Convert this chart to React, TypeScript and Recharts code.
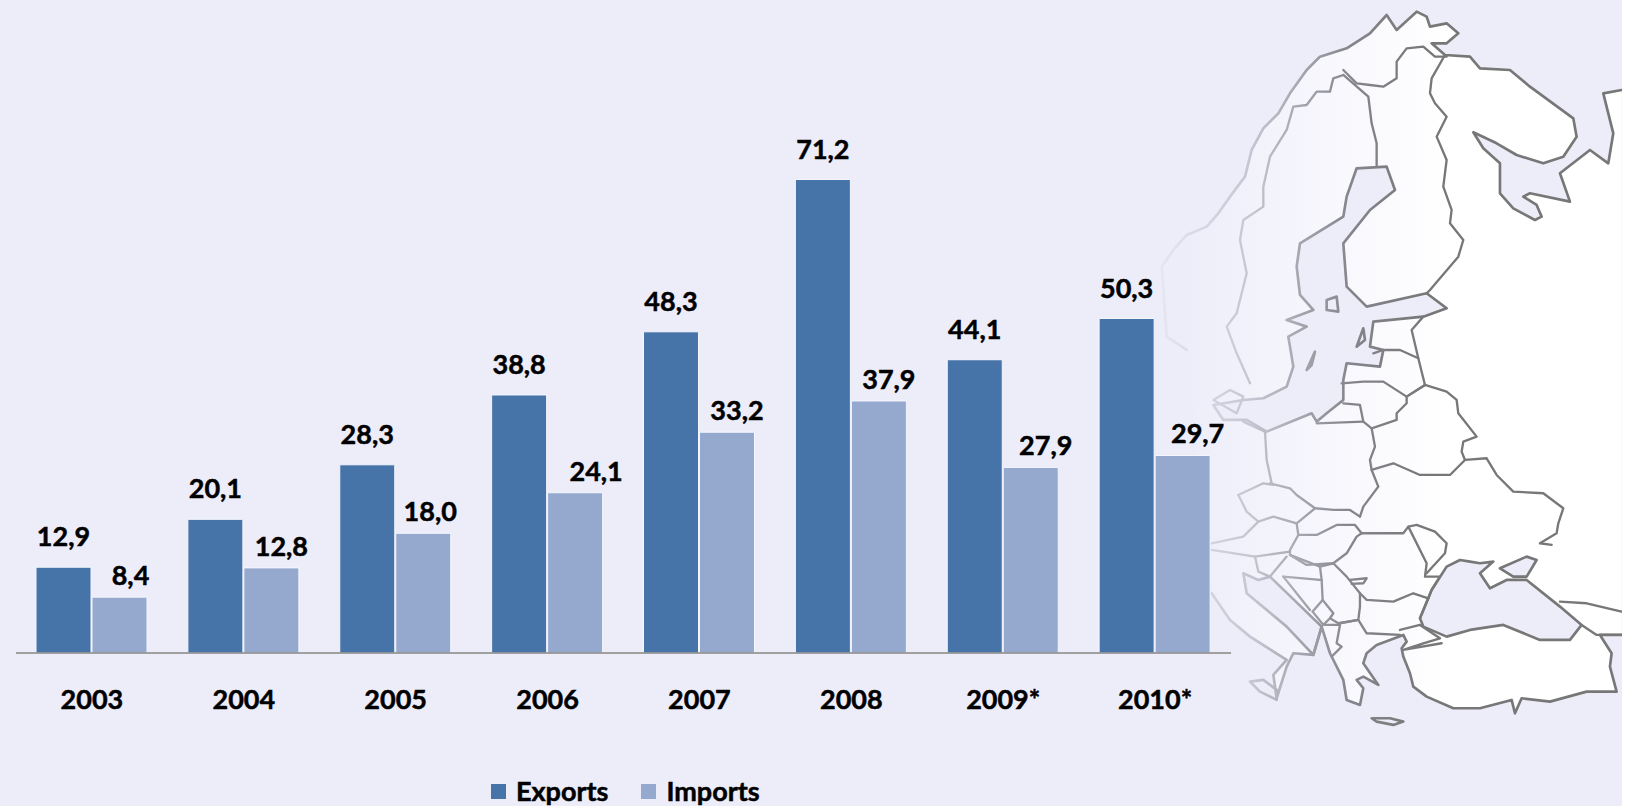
import React from 'react';
import { BarChart, Bar, XAxis, YAxis, Legend, LabelList } from 'recharts';

const years = ['2003', '2004', '2005', '2006', '2007', '2008', '2009*', '2010*'];
const exportsValues = [12.9, 20.1, 28.3, 38.8, 48.3, 71.2, 44.1, 50.3];
const importsValues = [8.4, 12.8, 18.0, 24.1, 33.2, 37.9, 27.9, 29.7];

// the import labels sit off-centre in the original, by hand
const importLabelShift = [11, 10, 7, 21, 10, 10, 15, 15];

const data = years.map((year, i) => ({ year, exports: exportsValues[i], imports: importsValues[i] }));

const FONT = 'Lato, sans-serif';
const BG = '#EDEDFA';
const EXPORT_COLOR = '#4674A8';
const IMPORT_COLOR = '#95A9CF';

// heavier than plain Lato bold, closer to the original's face
const textStyle = { fontFamily: FONT, fontWeight: 700, fontSize: 27, fill: '#000', stroke: '#000', strokeWidth: 0.5 };

// Europe backdrop, traced in 3x coordinates from x=1130
const coastNorth =
  'M170 1050L110 1010L95 800L130 750L170 705L230 680L265 640L300 590L345 530L365 450L400 385L445 340L480 280L530 210L570 170L650 145L720 100L770 45L800 90L860 35L890 50L900 80L950 70L985 100L950 130L905 130L945 165L1020 170L1050 205L1140 210L1200 260L1330 355L1340 410L1300 470L1240 490L1160 465L1100 430L1030 397L1060 445L1110 490L1110 580L1150 625L1215 660L1235 650L1220 615L1180 590L1200 580L1320 605L1290 520L1380 450L1435 490L1450 400L1420 280L1475 270';
const coastSouth =
  'M1475 1905L1410 1905L1445 1960L1440 2000L1460 2075L1370 2075L1260 2105L1175 2095L1155 2140L1145 2100L1050 2125L970 2125L890 2090L850 2060L840 2020L820 1970L815 1945L830 1925L820 1905L740 1935L710 1960L700 1990L745 2055L700 2030L680 2040L700 2065L690 2115L650 2100L640 2040L600 1960L575 1880L550 1965L490 1960L470 2000L440 2095L430 2025L470 1980L360 1910L300 1860L245 1780';
const seas = [
  // Baltic
  'M680 505L770 500L795 570L720 630L640 730L650 860L710 920L890 880L950 925L880 950L730 965L720 1040L760 1050L750 1100L650 1090L640 1140L640 1200L590 1240L560 1265L545 1240L410 1295L350 1260L280 1260L250 1215L340 1200L400 1195L470 1160L490 1100L475 1010L530 980L470 960L550 930L510 885L500 800L510 730L640 650L650 590Z',
  // Black Sea
  'M990 1680L1020 1685L1050 1690L1090 1685L1050 1720L1080 1765L1130 1740L1190 1740L1290 1820L1355 1875L1320 1920L1230 1920L1120 1875L1020 1890L950 1910L880 1880L870 1855L905 1770L950 1700Z',
  // Azov
  'M1110 1705L1190 1670L1220 1680L1190 1730L1150 1730Z',
  // Adriatic
  'M340 1720L350 1780L470 1880L550 1965L575 1880L420 1730L385 1740Z',
];
const islands = [
  'M360 2045L400 2040L440 2070L440 2100L390 2075Z',
  'M725 2155L780 2155L820 2165L790 2175L740 2165Z',
  'M530 1110L555 1055L545 1095Z',
  'M680 1040L700 985L705 1020Z',
  'M590 900L620 890L625 935L590 930Z',
];
const borders = [
  'M640 225L610 235L600 275L560 275L530 315L490 320L470 390L420 470L400 560L400 620L340 660L330 720L350 820L320 940L290 980L320 1060L360 1150',
  'M640 210L680 250L720 255L760 260L800 235L800 185L830 145L880 140L915 170L950 170',
  'M640 225L715 290L725 370L740 430L740 495',
  'M945 165L905 235L900 280L915 310L950 350L920 410L950 480L940 560L965 630L960 670L1000 720L985 770L900 870L890 880',
  'M880 950L845 990L865 1075L885 1155',
  'M730 1060L760 1050L810 1050L865 1075',
  'M635 1150L700 1145L760 1145L830 1190L885 1155',
  'M885 1155L830 1190L830 1210L800 1240L800 1260L725 1285',
  'M640 1210L690 1215L700 1265L725 1285',
  'M560 1270L700 1265',
  'M885 1155L950 1175L980 1200L985 1240L1040 1310L1000 1325L995 1355L1005 1380',
  'M725 1410L790 1390L870 1425L960 1425L1005 1380L1070 1375L1100 1425L1150 1475L1240 1480L1300 1525L1285 1570L1280 1600L1230 1630L1265 1635',
  'M725 1285L735 1340L720 1380L725 1410L745 1460L700 1520L690 1550',
  'M420 1450L480 1465L500 1485L555 1525L610 1530L660 1530L690 1550',
  'M405 1295L410 1380L425 1450',
  'M325 1485L400 1450L430 1455',
  'M325 1485L350 1535L385 1565L430 1550L500 1570',
  'M555 1525L500 1570L505 1605L560 1605L620 1575L675 1575L695 1600',
  'M505 1605L480 1650L480 1665L530 1695L610 1690L650 1660L680 1610L695 1600',
  'M245 1630L340 1610L385 1565',
  'M245 1650L375 1670L480 1655',
  'M375 1670L385 1715L420 1730L470 1670',
  'M480 1665L570 1700L575 1740',
  'M460 1730L570 1740',
  'M460 1730L540 1830',
  'M575 1740L578 1800L548 1835',
  'M610 1690L570 1700',
  'M610 1690L650 1730L690 1780L690 1820L685 1860L625 1870L600 1855L610 1840L578 1800',
  'M548 1835L580 1875L600 1855',
  'M580 1875L630 1875L620 1930L635 1940L605 1970',
  'M630 1870L685 1860L710 1900L810 1905',
  'M690 1780L710 1800L790 1805L850 1780L895 1795L870 1855',
  'M810 1890L870 1875',
  'M695 1600L820 1600L835 1580L890 1690L885 1730L930 1730L905 1770L895 1795',
  'M835 1580L860 1575L915 1595L950 1630L945 1660L890 1720',
  'M870 1875L930 1915L880 1930L820 1950L935 1930',
  'M1355 1875L1400 1905L1475 1905',
  'M1290 1805L1370 1810L1475 1835',
  'M340 1265L405 1295',
  'M250 1200L300 1170L340 1190L320 1240Z',
  'M660 1740L710 1735L700 1750L665 1752',
];

function EuropeMap() {
  const strokeProps = {
    fill: 'none',
    stroke: 'url(#mapStroke)',
    strokeWidth: 8,
    strokeLinejoin: 'round' as const,
    strokeLinecap: 'round' as const,
  };
  return (
    <svg width={1622} height={806} style={{ position: 'absolute', left: 0, top: 0 }}>
      <defs>
        <linearGradient id="mapLand" gradientUnits="userSpaceOnUse" x1="150" y1="0" x2="950" y2="0">
          <stop offset="0" stopColor={BG} />
          <stop offset="1" stopColor="#ffffff" />
        </linearGradient>
        <linearGradient id="mapStroke" gradientUnits="userSpaceOnUse" x1="90" y1="0" x2="900" y2="0">
          <stop offset="0" stopColor="#e6e6f2" />
          <stop offset="0.35" stopColor="#c4c4d0" />
          <stop offset="0.7" stopColor="#85858c" />
          <stop offset="1" stopColor="#777777" />
        </linearGradient>
        <filter id="mapBlur">
          <feGaussianBlur stdDeviation="1.8" />
        </filter>
      </defs>
      <g transform="translate(1130,0) scale(0.3333)" filter="url(#mapBlur)">
        <path d={coastNorth + coastSouth.replace('M', 'L') + 'Z'} fill="url(#mapLand)" />
        {seas.map((d) => (
          <path key={d} d={d} fill={BG} />
        ))}
        <path d={coastNorth} {...strokeProps} />
        <path d={coastSouth} {...strokeProps} />
        {seas.map((d) => (
          <path key={d} d={d} {...strokeProps} />
        ))}
        {islands.map((d) => (
          <path key={d} d={d} {...strokeProps} />
        ))}
        {borders.map((d) => (
          <path key={d} d={d} {...strokeProps} strokeWidth={7} />
        ))}
      </g>
    </svg>
  );
}

function LegendContent({ payload }: any) {
  return (
    <div
      style={{
        display: 'flex',
        fontFamily: FONT,
        fontWeight: 700,
        fontSize: 27,
        color: '#000',
        lineHeight: '32px',
        WebkitTextStroke: '0.5px #000',
      }}
    >
      {(payload || []).map((item: any, i: number) => (
        <div key={item.value} style={{ display: 'flex', alignItems: 'center', marginLeft: i === 0 ? 0 : 33 }}>
          <span style={{ width: 15, height: 15, background: item.color, marginRight: 10, display: 'block' }} />
          {item.value}
        </div>
      ))}
    </div>
  );
}

function ImportLabel({ x, y, width, value, index }: any) {
  return (
    <text x={x + width / 2 + importLabelShift[index]} y={y - 12} textAnchor="middle" style={textStyle}>
      {formatValue(value)}
    </text>
  );
}

function formatValue(v: number) {
  return v.toFixed(1).replace('.', ',');
}

export default function App() {
  return (
    <div style={{ position: 'absolute', left: 0, top: 0, width: 1631, height: 806, overflow: 'hidden', background: '#fff' }}>
      <div style={{ position: 'absolute', left: 0, top: 0, width: 1622, height: 806, background: BG }} />
      <EuropeMap />
      <div style={{ position: 'absolute', left: 0, top: 0 }}>
        <BarChart
          width={1631}
          height={806}
          data={data}
          margin={{ top: 123, right: 400, left: 16, bottom: 93 }}
          barSize={55}
          barGap={1}
        >
          <XAxis
            dataKey="year"
            height={60}
            tickLine={false}
            tickMargin={31}
            axisLine={{ stroke: '#868686', strokeWidth: 1.5 }}
            tick={textStyle}
            interval={0}
          />
          <YAxis hide domain={[0, 79.7]} />
          <Legend
            layout="horizontal"
            verticalAlign="middle"
            align="center"
            content={<LegendContent />}
            wrapperStyle={{ left: 491, top: 775, width: 'auto' }}
          />
          <Bar dataKey="exports" name="Exports" fill={EXPORT_COLOR} stroke="#F4F6FC" strokeWidth={1} isAnimationActive={false}>
            <LabelList dataKey="exports" position="top" offset={21} formatter={formatValue} style={textStyle} />
          </Bar>
          <Bar dataKey="imports" name="Imports" fill={IMPORT_COLOR} stroke="#F4F6FC" strokeWidth={1} isAnimationActive={false}>
            <LabelList dataKey="imports" content={<ImportLabel />} />
          </Bar>
        </BarChart>
      </div>
    </div>
  );
}
